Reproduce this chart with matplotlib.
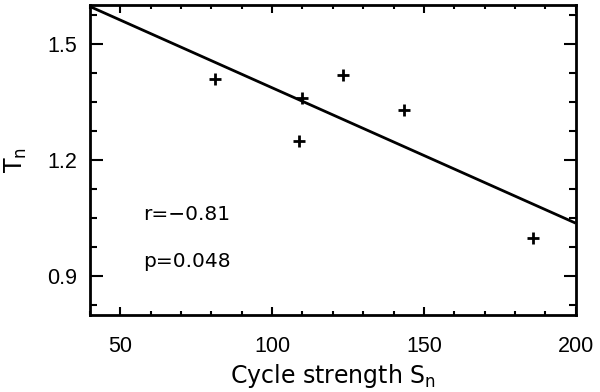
import matplotlib
matplotlib.use("Agg")
import matplotlib.pyplot as plt
from matplotlib.ticker import MultipleLocator
import numpy as np

# Data
cycle_strength = [81.2, 109.7, 123.4, 143.5, 108.8, 186.0]
T_n = [1.409, 1.359, 1.419, 1.329, 1.249, 0.998]
fit_x = [40, 200]
fit_y = [1.596, 1.037]
x_ticks = [50, 100, 150, 200]
y_ticks = [0.9, 1.2, 1.5]

plt.rcParams['font.family'] = ['Liberation Sans', 'DejaVu Sans']
plt.rcParams['mathtext.fontset'] = 'dejavusans'

fig = plt.figure(figsize=(6.0, 3.92), dpi=100)
ax = fig.add_axes([90/600, 1-315/392, (575.7-90)/600, (315-5)/392])

ax.plot(fit_x, fit_y, color='black', lw=2.0, solid_capstyle='butt')
ax.plot(cycle_strength, T_n, linestyle='none', marker='+', color='black',
        markersize=9, markeredgewidth=2.0)

ax.set_xlim(40, 200)
ax.set_ylim(0.8, 1.6)
ax.set_xticks(x_ticks)
ax.set_yticks(y_ticks)
ax.set_yticklabels(['0.9', '1.2', '1.5'])
ax.xaxis.set_minor_locator(MultipleLocator(10))
ax.yaxis.set_minor_locator(MultipleLocator(0.075))

ax.tick_params(which='both', direction='in', top=True, right=True,
               width=1.5, labelsize=15.5, color='black')
ax.tick_params(axis='x', which='major', length=6, pad=15)
ax.tick_params(axis='x', which='minor', length=3)
ax.tick_params(axis='y', which='major', length=9, pad=9)
ax.tick_params(axis='y', which='minor', length=5)
for s in ax.spines.values():
    s.set_linewidth(2.0)

ax.set_xlabel('Cycle strength S$_\\mathregular{n}$', fontsize=17, labelpad=4,
              family='DejaVu Sans')
ax.set_ylabel('T$_\\mathregular{n}$', fontsize=17, labelpad=13,
              family='DejaVu Sans')

ax.text(57.5, 1.06, 'r=\u22120.81', fontsize=14.5, va='center', ha='left',
        family='DejaVu Sans')
ax.text(57.5, 0.937, 'p=0.048', fontsize=14.5, va='center', ha='left',
        family='DejaVu Sans')

fig.savefig('out.png', dpi=100)
